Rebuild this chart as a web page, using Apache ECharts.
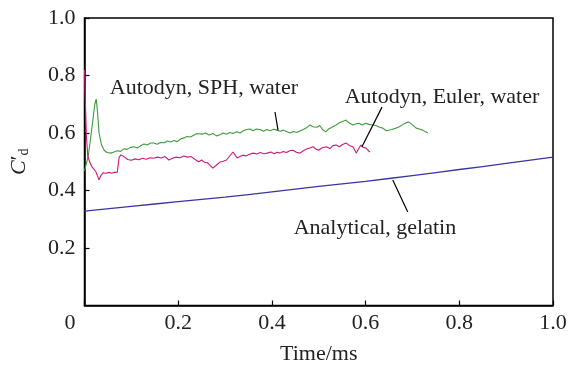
<!DOCTYPE html>
<html>
<head>
<meta charset="utf-8">
<script src="https://cdn.jsdelivr.net/npm/echarts@6/dist/echarts.min.js"></script>
<style>
  html, body { margin: 0; padding: 0; background: #fff; }
  #chart { width: 568px; height: 368px; }
</style>
</head>
<body>
<div id="chart"></div>
<script>
// Drag coefficient C'd against time (ms)
const xTicks = [0, 0.2, 0.4, 0.6, 0.8, 1.0];
const yTicks = [0, 0.2, 0.4, 0.6, 0.8, 1.0];

// Autodyn, SPH, water
const sphTime = [0.000, 0.008, 0.016, 0.022, 0.025, 0.028, 0.031, 0.036, 0.042, 0.048,
  0.056, 0.063, 0.070, 0.077, 0.084, 0.091, 0.098, 0.106, 0.113, 0.120,
  0.127, 0.134, 0.141, 0.148, 0.155, 0.162, 0.170, 0.177, 0.184, 0.191,
  0.198, 0.205, 0.212, 0.219, 0.226, 0.234, 0.240, 0.244, 0.251, 0.258,
  0.266, 0.274, 0.282, 0.289, 0.296, 0.303, 0.310, 0.317, 0.325, 0.332,
  0.339, 0.346, 0.353, 0.360, 0.367, 0.375, 0.382, 0.389, 0.396, 0.404,
  0.411, 0.418, 0.425, 0.432, 0.439, 0.446, 0.453, 0.460, 0.467, 0.474,
  0.481, 0.488, 0.496, 0.502, 0.508, 0.515, 0.522, 0.530, 0.537, 0.544,
  0.551, 0.558, 0.565, 0.573, 0.580, 0.586, 0.593, 0.600, 0.607, 0.615,
  0.622, 0.630, 0.637, 0.644, 0.648, 0.656, 0.665, 0.672, 0.680, 0.687,
  0.693, 0.700, 0.708, 0.715, 0.722, 0.728, 0.733];
const sphCd = [0.468, 0.520, 0.620, 0.700, 0.718, 0.670, 0.600, 0.560, 0.540, 0.532,
  0.530, 0.534, 0.538, 0.536, 0.545, 0.543, 0.550, 0.552, 0.548, 0.556,
  0.562, 0.558, 0.565, 0.565, 0.561, 0.567, 0.566, 0.572, 0.569, 0.574,
  0.570, 0.579, 0.583, 0.588, 0.586, 0.593, 0.598, 0.603, 0.596, 0.600,
  0.593, 0.598, 0.590, 0.594, 0.600, 0.596, 0.602, 0.598, 0.604, 0.600,
  0.608, 0.612, 0.614, 0.608, 0.614, 0.612, 0.606, 0.612, 0.608, 0.613,
  0.610, 0.606, 0.610, 0.604, 0.600, 0.605, 0.602, 0.607, 0.612, 0.618,
  0.628, 0.622, 0.620, 0.626, 0.612, 0.604, 0.615, 0.622, 0.628, 0.636,
  0.640, 0.645, 0.635, 0.628, 0.632, 0.634, 0.628, 0.634, 0.630, 0.628,
  0.626, 0.620, 0.617, 0.608, 0.604, 0.612, 0.617, 0.622, 0.630, 0.636,
  0.638, 0.628, 0.617, 0.614, 0.610, 0.604, 0.600];

// Autodyn, Euler, water
const eulerTime = [0.000, 0.002, 0.004, 0.007, 0.011, 0.016, 0.020, 0.024, 0.028, 0.031,
  0.035, 0.040, 0.046, 0.052, 0.058, 0.064, 0.070, 0.074, 0.078, 0.084,
  0.092, 0.100, 0.108, 0.116, 0.124, 0.132, 0.140, 0.148, 0.156, 0.164,
  0.172, 0.180, 0.188, 0.196, 0.204, 0.212, 0.220, 0.228, 0.236, 0.244,
  0.250, 0.256, 0.263, 0.269, 0.274, 0.280, 0.289, 0.296, 0.303, 0.310,
  0.317, 0.322, 0.326, 0.332, 0.338, 0.345, 0.352, 0.360, 0.368, 0.375,
  0.383, 0.390, 0.398, 0.405, 0.411, 0.417, 0.424, 0.431, 0.438, 0.445,
  0.452, 0.460, 0.467, 0.474, 0.481, 0.488, 0.494, 0.500, 0.506, 0.516,
  0.524, 0.530, 0.537, 0.544, 0.551, 0.558, 0.566, 0.573, 0.577, 0.580,
  0.585, 0.590, 0.595, 0.601, 0.605, 0.609];
const eulerCd = [0.820, 0.700, 0.590, 0.520, 0.500, 0.482, 0.476, 0.466, 0.450, 0.437,
  0.452, 0.462, 0.460, 0.463, 0.460, 0.463, 0.464, 0.516, 0.524, 0.518,
  0.508, 0.505, 0.510, 0.507, 0.512, 0.509, 0.514, 0.512, 0.516, 0.513,
  0.518, 0.506, 0.512, 0.516, 0.514, 0.520, 0.516, 0.518, 0.508, 0.500,
  0.506, 0.498, 0.496, 0.486, 0.478, 0.486, 0.499, 0.502, 0.506, 0.520,
  0.534, 0.522, 0.513, 0.518, 0.523, 0.520, 0.526, 0.530, 0.527, 0.532,
  0.528, 0.530, 0.534, 0.528, 0.533, 0.530, 0.536, 0.532, 0.538, 0.540,
  0.533, 0.530, 0.538, 0.544, 0.548, 0.552, 0.544, 0.540, 0.548, 0.552,
  0.546, 0.556, 0.558, 0.552, 0.560, 0.565, 0.556, 0.552, 0.540, 0.530,
  0.545, 0.558, 0.550, 0.548, 0.540, 0.534];

// Analytical, gelatin
const anaTime = [0, 0.1, 0.2, 0.3, 0.4, 0.5, 0.6, 0.7, 0.8, 0.9, 1.0];
const anaCd = [0.328, 0.345, 0.361, 0.377, 0.395, 0.414, 0.432, 0.452, 0.473, 0.494, 0.516];

const zip = (a, b) => a.map((v, i) => [v, b[i]]);

const serif = 'Liberation Serif';
const labelStyle = { fontFamily: serif, fontSize: 22, color: '#222' };
const leader = { color: '#000', width: 1.2, type: 'solid' };

function callout(text, at, from, to) {
  return {
    markLine: {
      silent: true, symbol: 'none', animation: false,
      lineStyle: leader, label: { show: false },
      data: [[{ coord: from }, { coord: to }]]
    },
    markPoint: {
      silent: true, symbol: 'circle', symbolSize: 0, animation: false,
      label: { show: true, position: 'inside', formatter: text, ...labelStyle },
      data: [{ coord: at }]
    }
  };
}

const chart = echarts.init(document.getElementById('chart'), null, { renderer: 'canvas' });
chart.setOption({
  animation: false,
  grid: {
    left: 84.5, right: 15, top: 18, bottom: 62.5,
    containLabel: false, outerBoundsMode: 'none',
    show: true, borderColor: '#000', borderWidth: 1.5
  },
  xAxis: {
    type: 'value', min: 0, max: 1.0, interval: 0.2,
    name: 'Time/ms', nameLocation: 'middle', nameGap: 38,
    nameTextStyle: { ...labelStyle },
    axisLine: { lineStyle: { color: '#000', width: 1.5 } },
    axisTick: { inside: true, length: 5, lineStyle: { color: '#000', width: 1.2 } },
    splitLine: { show: false },
    axisLabel: {
      ...labelStyle, margin: 7,
      formatter: v => {
        const t = xTicks.find(k => Math.abs(k - v) < 1e-9);
        if (t === 0) return '{o|0}';
        return t.toFixed(1);
      },
      rich: { o: { ...labelStyle, padding: [0, 29, 0, 0] } }
    }
  },
  yAxis: {
    type: 'value', min: 0, max: 1.0, interval: 0.2,
    name: '{c|C}{p|′}{d|d}', nameLocation: 'middle', nameGap: 53, nameRotate: 90,
    nameTextStyle: {
      rich: {
        c: { fontFamily: serif, fontSize: 22, fontStyle: 'italic', color: '#222' },
        p: { fontFamily: serif, fontSize: 22, color: '#222' },
        d: { fontFamily: serif, fontSize: 14, color: '#222', verticalAlign: 'bottom', padding: [10, 0, 0, 0] }
      }
    },
    axisLine: { lineStyle: { color: '#000', width: 1.5 } },
    axisTick: { inside: true, length: 5, lineStyle: { color: '#000', width: 1.2 } },
    splitLine: { show: false },
    axisLabel: {
      ...labelStyle, margin: 9, showMinLabel: false,
      formatter: v => {
        const t = yTicks.find(k => Math.abs(k - v) < 1e-9);
        return t === 0 ? '0' : t.toFixed(1);
      }
    }
  },
  series: [
    {
      name: 'Analytical, gelatin', type: 'line', showSymbol: false, smooth: true,
      data: zip(anaTime, anaCd), lineStyle: { color: '#3b35a0', width: 1.3 }, z: 3,
      ...callout('Analytical, gelatin', [0.620, 0.270], [0.658, 0.4365], [0.690, 0.325])
    },
    {
      name: 'Autodyn, SPH, water', type: 'line', showSymbol: false,
      data: zip(sphTime, sphCd), lineStyle: { color: '#3c9c3c', width: 1.1 }, z: 3,
      ...callout('Autodyn, SPH, water', [0.255, 0.757], [0.4066, 0.673], [0.413, 0.610])
    },
    {
      name: 'Autodyn, Euler, water', type: 'line', showSymbol: false,
      data: zip(eulerTime, eulerCd), lineStyle: { color: '#cc1a78', width: 1.1 }, z: 3,
      ...callout('Autodyn, Euler, water', [0.763, 0.725], [0.635, 0.690], [0.592, 0.551])
    }
  ]
});
</script>
</body>
</html>
